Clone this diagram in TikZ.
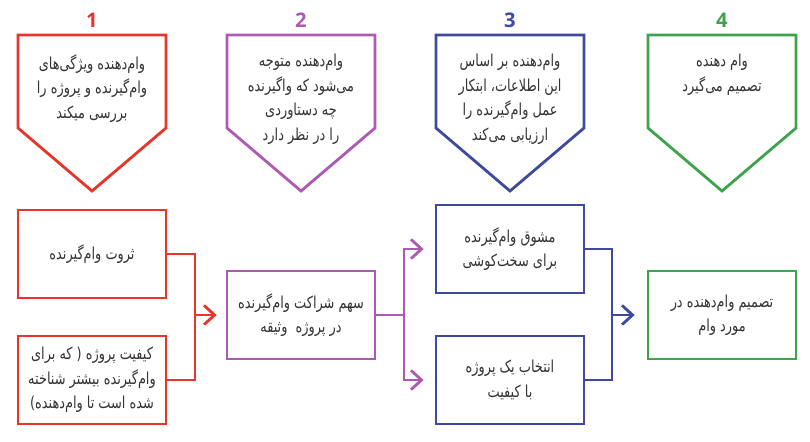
\documentclass[tikz,border=0pt]{standalone}
\usepackage{fontspec}
\setmainfont{Open Sans}
\newfontfamily\farsi[Script=Arabic, FakeStretch=0.78]{DejaVu Sans}
\TeXXeTstate=1
\usetikzlibrary{positioning,arrows.meta}

\definecolor{cred}{HTML}{E8352B}
\definecolor{cpur}{HTML}{AE5AB5}
\definecolor{cblu}{HTML}{3D4A9F}
\definecolor{cgrn}{HTML}{3FA34D}
\definecolor{ctext}{HTML}{333333}

\newcommand{\fline}[1]{\beginR #1\endR}

\tikzset{
  txt/.style = {text=ctext, align=center, inner sep=0pt,
                font=\farsi\fontsize{9.4}{13.9}\selectfont},
  num/.style = {font=\fontsize{11.5}{12}\selectfont\bfseries, inner sep=0pt},
  box/.style = {draw, line width=1.6pt, minimum width=2.96cm,
                minimum height=1.76cm, inner sep=0pt, text=ctext,
                align=center, font=\farsi\fontsize{9.4}{13.9}\selectfont},
  link/.style = {line width=1.6pt},
  arr/.style = {link, -{Straight Barb[length=6pt,width=11pt]}},
}

\begin{document}
\begin{tikzpicture}[x=0.02cm, y=-0.02cm]
  \useasboundingbox (0,0) rectangle (810,441);

  % steps
  \foreach \cx/\col/\n in {92/cred/1, 301/cpur/2, 510/cblu/3, 722/cgrn/4} {
    \draw[\col, line width=1.6pt] (\cx-74,35) -- (\cx+74,35) -- (\cx+74,128)
      -- (\cx,191) -- (\cx-74,128) -- cycle;
    \node[num, text=\col] (n\n) at (\cx,20) {\n};
  }

  \node[txt, anchor=north] (p1) at (92,54)
    {\fline{وام‌دهنده ویژگی‌های}\\\fline{وام‌گیرنده و پروژه را}\\\fline{بررسی میکند}};
  \node[txt, anchor=north] (p2) at (301,54)
    {\fline{وام‌دهنده متوجه}\\\fline{می‌شود که واگیرنده}\\\fline{چه دستاوردی}\\\fline{را در نظر دارد}};
  \node[txt, anchor=north] (p3) at (510,54)
    {\fline{وام‌دهنده بر اساس}\\\fline{این اطلاعات، ابتکار}\\\fline{عمل وام‌گیرنده را}\\\fline{ارزیابی می‌کند}};
  \node[txt, anchor=north] (p4) at (722,54)
    {\fline{وام دهنده}\\\fline{تصمیم می‌گیرد}};

  % boxes
  \node[box, draw=cred] (wealth) at (92,254) {\fline{ثروت وام‌گیرنده}};
  \node[box, draw=cred] (quality) at (92,380)
    {\fline{کیفیت پروژه ( که برای}\\\fline{وام‌گیرنده بیشتر شناخته}\\\fline{شده است تا وام‌دهنده)}};
  \node[box, draw=cpur] (share) at (301,315)
    {\fline{سهم شراکت وام‌گیرنده}\\\fline{در پروژه~ وثیقه}};
  \node[box, draw=cblu] (effort) at (510,249)
    {\fline{مشوق وام‌گیرنده}\\\fline{برای سخت‌کوشی}};
  \node[box, draw=cblu] (select) at (510,380)
    {\fline{انتخاب یک پروژه}\\\fline{با کیفیت}};
  \node[box, draw=cgrn] (decide) at (722,315)
    {\fline{تصمیم وام‌دهنده در}\\\fline{مورد وام}};

  % connectors
  \coordinate (rj) at (195,315);
  \coordinate (pj) at (404,315);
  \coordinate (bj) at (612,315);

  \draw[cred, link] (wealth.east) -| (rj) |- (quality.east);
  \draw[cred, arr, shorten >=0.18cm] (rj) -- (share.west);

  \draw[cpur, link] (share.east) -- (pj);
  \draw[cpur, arr, shorten >=0.22cm] (pj) |- (effort.west);
  \draw[cpur, arr, shorten >=0.22cm] (pj) |- (select.west);

  \draw[cblu, link] (effort.east) -| (bj) |- (select.east);
  \draw[cblu, arr, shorten >=0.24cm] (bj) -- (decide.west);
\end{tikzpicture}
\end{document}
